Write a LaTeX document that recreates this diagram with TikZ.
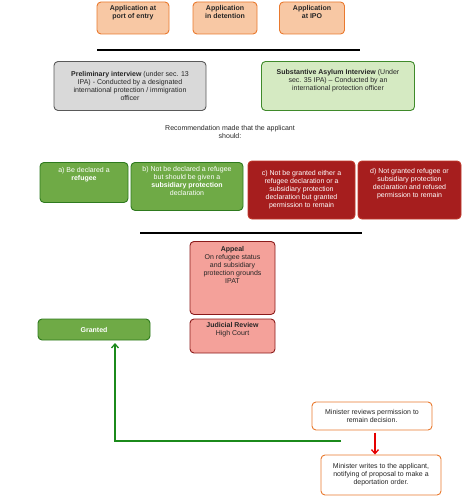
\documentclass[tikz,border=0pt]{standalone}
\usepackage{fontspec}
\setmainfont{Liberation Sans}
\usetikzlibrary{arrows.meta}
\definecolor{appfill}{HTML}{F8C8A4}
\definecolor{appline}{HTML}{E9792E}
\definecolor{prelfill}{HTML}{D9D9D9}
\definecolor{prelline}{HTML}{595959}
\definecolor{subfill}{HTML}{D5EAC2}
\definecolor{subline}{HTML}{3F8A2A}
\definecolor{recfill}{HTML}{6FAA46}
\definecolor{recline}{HTML}{2E7A1E}
\definecolor{refusefill}{HTML}{A61E1E}
\definecolor{refuseline}{HTML}{C0392B}
\definecolor{appealfill}{HTML}{F4A19A}
\definecolor{appealline}{HTML}{8B1A1A}
\definecolor{greenarrow}{HTML}{1B8A1B}
\tikzset{
  box/.style={draw,rounded corners=4pt,line width=0.9pt,align=center,
    font=\fontsize{7}{8}\selectfont,inner sep=2pt,text=black!85},
  appbox/.style={box,fill=appfill,draw=appline,font=\fontsize{7}{8}\selectfont\bfseries},
  prelbox/.style={box,fill=prelfill,draw=prelline},
  subbox/.style={box,fill=subfill,draw=subline},
  recbox/.style={box,fill=recfill,draw=recline,text=white},
  refusebox/.style={box,fill=refusefill,draw=refuseline,text=white},
  appealbox/.style={box,fill=appealfill,draw=appealline},
  ministerbox/.style={box,fill=white,draw=appline},
  divider/.style={line width=1.6pt},
}
\begin{document}
\begin{tikzpicture}[x=1pt,y=-1pt]
  \useasboundingbox (0,0) rectangle (474,503);
  % applications
  \node[appbox,minimum width=72pt,minimum height=32pt] (entry) at (133,18) {Application at\\port of entry\\[4pt]};
  \node[appbox,minimum width=64pt,minimum height=32pt] (detention) at (225,18) {Application\\in detention\\[4pt]};
  \node[appbox,minimum width=65pt,minimum height=32pt] (ipo) at (312,18) {Application\\at IPO\\[4pt]};
  \draw[divider] (97,50) -- (360,50);
  % interviews
  \node[prelbox,minimum width=152pt,minimum height=49pt] (prelim) at (130,86)
    {\textbf{Preliminary interview} (under sec. 13\\IPA) - Conducted by a designated\\international protection / immigration\\officer};
  \node[subbox,minimum width=153pt,minimum height=49pt] (subst) at (338,86)
    {\textbf{Substantive Asylum Interview} (Under\\sec. 35 IPA) -- Conducted by an\\international protection officer\\[4pt]};
  \node[align=center,font=\fontsize{7}{8}\selectfont,text=black!85] (recommend) at (230,132) {Recommendation made that the applicant\\should:};
  % recommendations
  \node[recbox,minimum width=88pt,minimum height=40pt,anchor=north] (refugee) at (84,162) {a) Be declared a\\\textbf{refugee}\\[8pt]};
  \node[recbox,minimum width=112pt,minimum height=48pt,anchor=north] (subsidiary) at (187,162)
    {b) Not be declared a refugee\\but should be given a\\\textbf{subsidiary protection}\\declaration\\[3pt]};
  \node[refusebox,minimum width=107pt,minimum height=58pt] (permission) at (301.5,190)
    {c) Not be granted either a\\refugee declaration or a\\subsidiary protection\\declaration but granted\\permission to remain};
  \node[refusebox,minimum width=103pt,minimum height=58pt] (refused) at (409.5,190)
    {d) Not granted refugee or\\subsidiary protection\\declaration and refused\\permission to remain\\[6pt]};
  \draw[divider] (140,233) -- (362,233);
  % appeal
  \node[appealbox,minimum width=85pt,minimum height=73pt,anchor=north] (appeal) at (232.5,241)
    {\textbf{Appeal}\\On refugee status\\and subsidiary\\protection grounds\\IPAT\\[18pt]};
  \node[appealbox,minimum width=85pt,minimum height=34pt] (review) at (232.5,336)
    {\textbf{Judicial Review}\\High Court\\[6pt]};
  \node[recbox,minimum width=112pt,minimum height=21pt,font=\fontsize{7}{8}\selectfont\bfseries] (granted) at (94,329.5) {Granted};
  % minister
  \node[ministerbox,minimum width=120pt,minimum height=28pt] (reviews) at (372,416)
    {Minister reviews permission to\\remain decision.};
  \node[ministerbox,minimum width=120pt,minimum height=40pt] (writes) at (381,475)
    {Minister writes to the applicant,\\notifying of proposal to make a\\deportation order.};
  \coordinate (turn) at (341,441);
  \draw[greenarrow,line width=1.3pt,-{Straight Barb[length=4pt,width=7pt]}] (turn) -- (115,441) -- (115,343);
  \draw[red!90!black,line width=1.3pt,-{Straight Barb[length=4pt,width=7pt]}] (375,432.5) -- (writes.north -| 375,0);
\end{tikzpicture}
\end{document}
